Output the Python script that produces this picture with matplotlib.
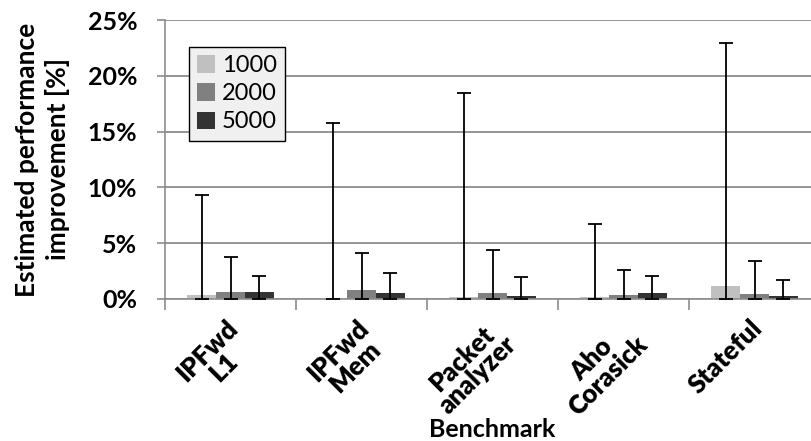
import matplotlib
matplotlib.use('Agg')
import matplotlib.pyplot as plt
import matplotlib.transforms as mtransforms
import numpy as np

benchmarks = ['IPFwd\nL1', 'IPFwd\nMem', 'Packet\nanalyzer', 'Aho\nCorasick', 'Stateful']
series = ['1000', '2000', '5000']
colors = ['#c0c0c0', '#808080', '#333333']

# mean improvement [%] per series
vals_1000 = [0.36, 0.05, 0.2, 0.15, 1.16]
vals_2000 = [0.6, 0.78, 0.54, 0.36, 0.47]
vals_5000 = [0.65, 0.5, 0.25, 0.5, 0.25]
# top of error bar [%]
err_top_1000 = [9.3, 15.8, 18.5, 6.7, 22.9]
err_top_2000 = [3.8, 4.1, 4.4, 2.57, 3.4]
err_top_5000 = [2.1, 2.3, 2.0, 2.1, 1.7]

plt.rcParams['font.family'] = ['Lato', 'DejaVu Sans']

fig = plt.figure(figsize=(8.11, 4.41), dpi=100)
W, H = 811.0, 441.0
ax = fig.add_axes([165 / W, 1 - 299 / H, (820 - 165) / W, (299 - 20) / H])

x = np.arange(len(benchmarks)) + 0.5
width = 0.22
all_vals = [vals_1000, vals_2000, vals_5000]
all_tops = [err_top_1000, err_top_2000, err_top_5000]
for k in range(3):
    v = np.array(all_vals[k])
    top = np.array(all_tops[k])
    pos = x + (k - 1) * width
    ax.bar(pos, v, width, color=colors[k], label=series[k], zorder=2)
    ax.errorbar(pos, v, yerr=[v, top - v], fmt='none', ecolor='black',
                elinewidth=1.3, capsize=5, capthick=1.3, zorder=3)

ax.set_xlim(0, 5)
ax.set_ylim(0, 25)
ax.set_yticks(np.arange(0, 26, 5))
ax.set_yticklabels(['%d%%' % t for t in range(0, 26, 5)], fontsize=18, fontweight='bold')
ax.yaxis.grid(True, color='#8c8c8c', linewidth=1.3, zorder=0)
ax.set_axisbelow(True)

# category labels, rotated
ax.set_xticks(x)
ax.set_xticklabels(benchmarks, rotation=45, ha='right', va='top', rotation_mode='anchor',
                   fontsize=18.5, fontweight='heavy', multialignment='center', linespacing=0.95)
ax.tick_params(axis='x', which='major', length=0, pad=12)
shift = mtransforms.ScaledTranslation(-5 / 100, 0, fig.dpi_scale_trans)
for lab in ax.get_xticklabels():
    lab.set_transform(lab.get_transform() + shift)
ax.set_xticks(np.arange(0, 6), minor=True)
ax.tick_params(axis='x', which='minor', length=8, color='#8c8c8c', width=1.2, direction='out')
ax.tick_params(axis='y', length=6, color='#8c8c8c', width=1.2, pad=14)

for s in ['top', 'right']:
    ax.spines[s].set_visible(False)
for s in ['left', 'bottom']:
    ax.spines[s].set_color('#8c8c8c')
    ax.spines[s].set_linewidth(1.2)

ax.set_ylabel('Estimated performance\nimprovement [%]', fontsize=19, fontweight='bold',
              linespacing=1.3)
ax.yaxis.set_label_coords(-(165 - 70) / 655.0, 0.5)
ax.set_xlabel('Benchmark', fontsize=18, fontweight='bold')
ax.xaxis.set_label_coords((492 - 165) / 655.0, -(437 - 299) / 279.0)
ax.xaxis.label.set_va('baseline')

leg = ax.legend(loc='upper left', bbox_to_anchor=((189 - 165) / 655.0, 1 - (47 - 20) / 279.0),
                fontsize=17, frameon=True, fancybox=False, handlelength=0.75, handleheight=0.75,
                borderpad=0.35, labelspacing=0.3, handletextpad=0.3, borderaxespad=0)
leg.get_frame().set_facecolor('#f0f0f0')
leg.get_frame().set_edgecolor('black')
leg.get_frame().set_linewidth(1.0)
leg.get_frame().set_alpha(1)

fig.savefig('out.png', dpi=100)
